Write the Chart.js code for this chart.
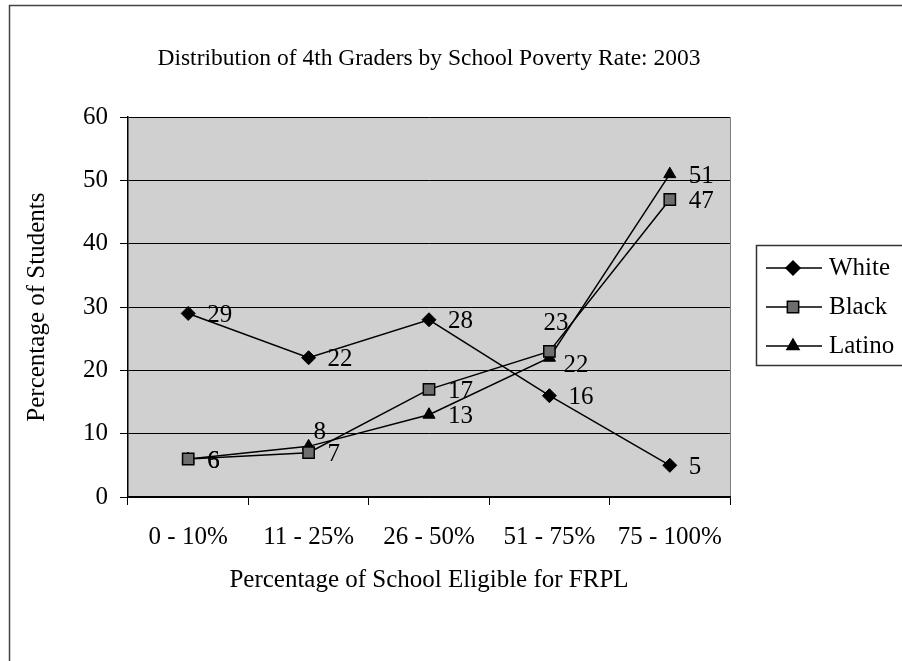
<!DOCTYPE html>
<html>
<head>
<meta charset="utf-8">
<title>Distribution of 4th Graders by School Poverty Rate: 2003</title>
<script src="https://cdn.jsdelivr.net/npm/chart.js"></script>
<style>
  html, body { margin: 0; padding: 0; background: #fff; }
  #wrap { width: 902px; height: 661px; }
</style>
</head>
<body>
<div id="wrap"><canvas id="chart" width="902" height="661"></canvas></div>
<script>
// data
const categories = ['0 - 10%', '11 - 25%', '26 - 50%', '51 - 75%', '75 - 100%'];
const white = [29, 22, 28, 16, 5];
const black = [6, 7, 17, 23, 47];
const latino = [6, 8, 13, 22, 51];
const yTicks = [0, 10, 20, 30, 40, 50, 60];

const serif = "'Liberation Serif', 'Times New Roman', serif";

// gray plot area + page frame
const plotBg = {
  id: 'plotBg',
  beforeDraw(chart) {
    const { ctx, chartArea: a } = chart;
    ctx.save();
    ctx.strokeStyle = '#444';
    ctx.lineWidth = 1.5;
    ctx.beginPath();
    ctx.moveTo(9.5, 661);
    ctx.lineTo(9.5, 5.5);
    ctx.lineTo(902, 5.5);
    ctx.stroke();
    ctx.fillStyle = '#d0d0d0';
    ctx.fillRect(a.left, a.top, a.right - a.left, a.bottom - a.top);
    ctx.strokeStyle = '#808080';
    ctx.lineWidth = 1;
    ctx.beginPath();
    ctx.moveTo(a.right + 0.5, a.top);
    ctx.lineTo(a.right + 0.5, a.bottom);
    ctx.stroke();
    ctx.restore();
  }
};

// numbers next to each point
const valueLabels = {
  id: 'valueLabels',
  afterDatasetsDraw(chart, args, opts) {
    const ctx = chart.ctx;
    ctx.save();
    ctx.font = '25px ' + serif;
    ctx.fillStyle = '#000';
    ctx.textAlign = 'left';
    ctx.textBaseline = 'middle';
    chart.data.datasets.forEach((ds, i) => {
      chart.getDatasetMeta(i).data.forEach((pt, j) => {
        const n = (opts.nudge[ds.label] || {})[j] || [opts.dx, opts.dy];
        ctx.fillText(String(ds.data[j]), pt.x + n[0], pt.y + n[1]);
      });
    });
    ctx.restore();
  }
};

// boxed legend at the right, clipped by the page edge like the original
const sideLegend = {
  id: 'sideLegend',
  afterDraw(chart, args, opts) {
    const ctx = chart.ctx;
    const sets = chart.data.datasets;
    ctx.save();
    ctx.strokeStyle = '#333';
    ctx.lineWidth = 1.5;
    ctx.strokeRect(opts.x + 0.5, opts.y + 0.5, 200, opts.height);
    ctx.font = '25px ' + serif;
    ctx.textAlign = 'left';
    ctx.textBaseline = 'middle';
    sets.forEach((ds, i) => {
      const y = opts.y + opts.first + i * opts.rowH;
      ctx.strokeStyle = '#000';
      ctx.lineWidth = 1.5;
      ctx.beginPath();
      ctx.moveTo(opts.x + 10, y);
      ctx.lineTo(opts.x + 66, y);
      ctx.stroke();
      ctx.fillStyle = ds.pointBackgroundColor;
      ctx.strokeStyle = '#000';
      Chart.helpers.drawPoint(ctx, {
        pointStyle: ds.pointStyle,
        radius: ds.pointRadius,
        borderWidth: 1,
        rotation: 0
      }, opts.x + 37, y);
      ctx.fillStyle = '#000';
      ctx.fillText(ds.label, opts.x + 73, y);
    });
    ctx.restore();
  }
};

new Chart(document.getElementById('chart'), {
  type: 'line',
  data: {
    labels: categories,
    datasets: [
      {
        label: 'White',
        data: white,
        borderColor: '#000',
        borderWidth: 1.5,
        pointStyle: 'rectRot',
        pointRadius: 7,
        pointBackgroundColor: '#000',
        pointBorderColor: '#000',
        pointBorderWidth: 1
      },
      {
        label: 'Black',
        data: black,
        borderColor: '#000',
        borderWidth: 1.5,
        pointStyle: 'rect',
        pointRadius: 8,
        pointBackgroundColor: '#6e6e6e',
        pointBorderColor: '#000',
        pointBorderWidth: 1.5
      },
      {
        label: 'Latino',
        data: latino,
        borderColor: '#000',
        borderWidth: 1.5,
        pointStyle: 'triangle',
        pointRadius: 7,
        pointBackgroundColor: '#000',
        pointBorderColor: '#000',
        pointBorderWidth: 1
      }
    ]
  },
  options: {
    responsive: false,
    animation: false,
    devicePixelRatio: 1,
    layout: { padding: { top: 0, right: 172, bottom: 0, left: 0 } },
    scales: {
      x: {
        offset: true,
        afterFit(scale) { scale.height = 164; },
        grid: {
          offset: true,
          drawOnChartArea: false,
          drawTicks: true,
          tickLength: 8,
          color: '#000',
          lineWidth: 1
        },
        border: { color: '#000', width: 1.5 },
        ticks: {
          color: '#000',
          font: { family: serif, size: 25 },
          padding: 17,
          maxRotation: 0,
          autoSkip: false
        },
        title: {
          display: true,
          text: 'Percentage of School Eligible for FRPL',
          color: '#000',
          font: { family: serif, size: 25 },
          padding: { top: 0, bottom: 66 }
        }
      },
      y: {
        min: yTicks[0],
        max: yTicks[yTicks.length - 1],
        afterFit(scale) { scale.width = 128; },
        afterBuildTicks(scale) { scale.ticks = yTicks.map(v => ({ value: v })); },
        grid: {
          color: '#000',
          lineWidth: 1,
          drawTicks: true,
          tickLength: 8
        },
        border: { color: '#000', width: 1.5 },
        ticks: {
          color: '#000',
          font: { family: serif, size: 25 },
          padding: 12
        },
        title: {
          display: true,
          text: 'Percentage of Students',
          color: '#000',
          font: { family: serif, size: 25 },
          padding: { top: 22, bottom: 0 }
        }
      }
    },
    plugins: {
      legend: { display: false },
      tooltip: { enabled: false },
      title: {
        display: true,
        text: 'Distribution of 4th Graders by School Poverty Rate: 2003',
        color: '#000',
        fullSize: false,
        font: { family: serif, size: 23.5, weight: 'normal' },
        padding: { top: 45, bottom: 44 }
      },
      valueLabels: {
        dx: 19,
        dy: 2,
        nudge: {
          Black: { 3: [-6, -28] },
          Latino: { 1: [5, -14], 3: [14, 8] }
        }
      },
      sideLegend: { x: 756, y: 245, height: 120, first: 23, rowH: 39 }
    }
  },
  plugins: [plotBg, valueLabels, sideLegend]
});
</script>
</body>
</html>
